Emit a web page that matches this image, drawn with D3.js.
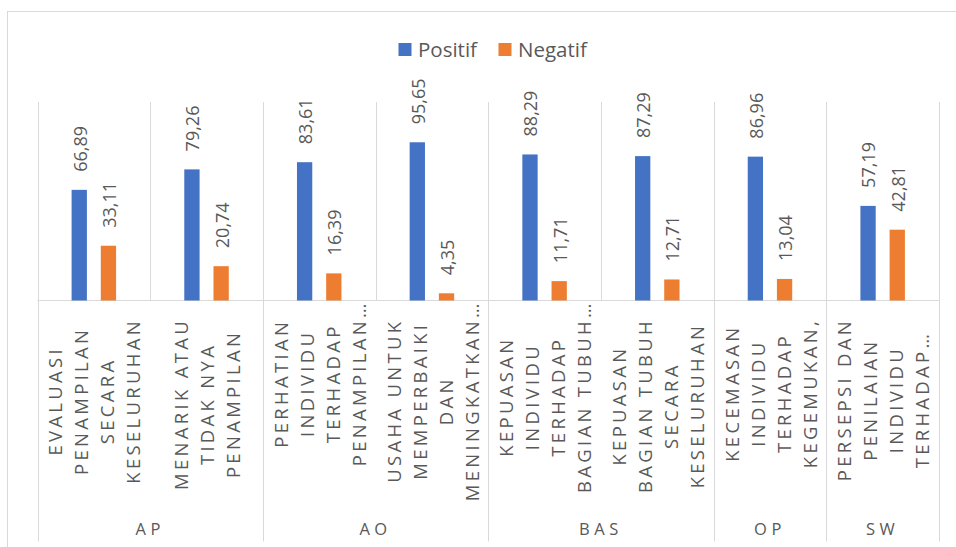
<!DOCTYPE html>
<html><head><meta charset="utf-8">
<script src="https://cdn.jsdelivr.net/npm/d3@7"></script>
<style>
html,body{margin:0;padding:0;background:#fff;}
svg{display:block;font-family:"Open Sans",sans-serif;}
</style></head><body>
<svg id="chart" width="956" height="547"></svg>
<script>
// ---------- DATA ----------
const groups = ["AP", "AO", "BAS", "OP", "SW"];
const groupSizes = [2, 2, 2, 1, 1];
const categoryLines = [
  ["EVALUASI", "PENAMPILAN", "SECARA", "KESELURUHAN"],
  ["MENARIK ATAU", "TIDAK NYA", "PENAMPILAN"],
  ["PERHATIAN", "INDIVIDU", "TERHADAP", "PENAMPILAN\u2026"],
  ["USAHA UNTUK", "MEMPERBAIKI", "DAN", "MENINGKATKAN\u2026"],
  ["KEPUASAN", "INDIVIDU", "TERHADAP", "BAGIAN TUBUH\u2026"],
  ["KEPUASAN", "BAGIAN TUBUH", "SECARA", "KESELURUHAN"],
  ["KECEMASAN", "INDIVIDU", "TERHADAP", "KEGEMUKAN,"],
  ["PERSEPSI DAN", "PENILAIAN", "INDIVIDU", "TERHADAP\u2026"]
];
const seriesNames = ["Positif", "Negatif"];
const positif = [66.89, 79.26, 83.61, 95.65, 88.29, 87.29, 86.96, 57.19];
const negatif = [33.11, 20.74, 16.39, 4.35, 11.71, 12.71, 13.04, 42.81];
const yDomain = [0, 120];

// ---------- LAYOUT ----------
const colors = {Positif: "#4472C4", Negatif: "#ED7D31"};
const textColor = "#595959";
const gridColor = "#d9d9d9";
const plot = {left: 37.5, right: 939, top: 102, bottom: 300.5};
const groupLineBottom = 541.5;

const svg = d3.select("#chart");
const n = positif.length;
const series = [positif, negatif];

// outer chart border
svg.append("rect").attr("x", 7.5).attr("y", 11.5).attr("width", 970).attr("height", 560)
  .attr("fill", "#fff").attr("stroke", gridColor).attr("stroke-width", 1);

const x = d3.scaleBand().domain(d3.range(n)).range([plot.left, plot.right]).padding(0);
const xs = d3.scaleBand().domain(seriesNames).range([0, x.bandwidth()])
  .paddingInner(0.476).paddingOuter(1.168);
const y = d3.scaleLinear().domain(yDomain).range([plot.bottom, plot.top]);

const px = v => Math.round(v) + 0.5;

// vertical gridlines at category boundaries
const bounds = d3.range(n + 1).map(i => plot.left + i * x.step());
svg.append("g").selectAll("line").data(bounds).join("line")
  .attr("x1", d => px(d)).attr("x2", d => px(d))
  .attr("y1", plot.top).attr("y2", plot.bottom)
  .attr("stroke", gridColor).attr("stroke-width", 1);

// group boundary lines below axis
const groupStarts = [0];
groupSizes.forEach((s, i) => groupStarts.push(groupStarts[i] + s));
svg.append("g").selectAll("line").data(groupStarts).join("line")
  .attr("x1", d => px(plot.left + d * x.step())).attr("x2", d => px(plot.left + d * x.step()))
  .attr("y1", plot.bottom).attr("y2", groupLineBottom)
  .attr("stroke", gridColor).attr("stroke-width", 1);

// baseline
svg.append("line").attr("x1", plot.left).attr("x2", plot.right + 0.5)
  .attr("y1", plot.bottom).attr("y2", plot.bottom)
  .attr("stroke", gridColor).attr("stroke-width", 1);

// bars
const barData = [];
series.forEach((arr, si) => arr.forEach((v, i) => barData.push({i, s: seriesNames[si], v})));
svg.append("g").selectAll("rect").data(barData).join("rect")
  .attr("x", d => x(d.i) + xs(d.s))
  .attr("width", xs.bandwidth())
  .attr("y", d => y(d.v))
  .attr("height", d => y(0) - y(d.v))
  .attr("fill", d => colors[d.s]);

// value labels
const loc = d3.formatLocale({decimal: ",", thousands: ".", grouping: [3], currency: ["", ""]});
const fmt = loc.format(".2f");
const valFont = 18;
const valCap = valFont * 0.714;
svg.append("g").selectAll("text").data(barData).join("text")
  .attr("transform", d => `translate(${x(d.i) + xs(d.s) + xs.bandwidth() / 2 + valCap / 2 + 1},${y(d.v) - 18}) rotate(-90)`)
  .attr("text-anchor", "start")
  .attr("font-size", valFont)
  .attr("fill", textColor)
  .text(d => fmt(d.v));

// category labels (rotated, multi-line)
const labFont = 18.5, labLS = 3.3, lineGap = 26;
const labCap = labFont * 0.714;
const labG = svg.append("g");
categoryLines.forEach((lines, i) => {
  const cx = x(i) + x.bandwidth() / 2 + 1;
  const texts = lines.map(t => labG.append("text")
    .attr("text-anchor", "middle")
    .attr("font-size", labFont)
    .style("letter-spacing", labLS + "px")
    .attr("fill", textColor)
    .text(t));
  const lens = texts.map(t => t.node().getComputedTextLength());
  const im = d3.maxIndex(lens);
  const Lfull = lens[im];
  let core = Lfull;
  if (lines[im].endsWith("\u2026")) {
    const tmp = labG.append("text").attr("font-size", labFont).style("letter-spacing", labLS + "px")
      .text(lines[im].slice(0, -1));
    core = tmp.node().getComputedTextLength();
    tmp.remove();
  }
  const top = plot.bottom + 17.5 - (Lfull - core);
  const cy = top + Lfull / 2;
  texts.forEach((t, j) => {
    const colX = cx + (j - (lines.length - 1) / 2) * lineGap + labCap / 2;
    t.attr("transform", `translate(${colX},${cy}) rotate(-90)`);
  });
});

// group labels
svg.append("g").selectAll("text").data(groups).join("text")
  .attr("x", (d, i) => plot.left + (groupStarts[i] + groupSizes[i] / 2) * x.step())
  .attr("y", 535)
  .attr("text-anchor", "middle")
  .attr("font-size", 16.5)
  .style("letter-spacing", "4.5px")
  .attr("fill", textColor)
  .text(d => d);

// legend
const legX = [398.5, 498.5];
const leg = svg.append("g").selectAll("g").data(seriesNames).join("g")
  .attr("transform", (d, i) => `translate(${legX[i]},43)`);
leg.append("rect").attr("width", 13).attr("height", 13).attr("fill", d => colors[d]);
leg.append("text").attr("x", 19.5).attr("y", 13.5).attr("font-size", 20.5)
  .attr("fill", textColor).text(d => d);
</script>
</body></html>
